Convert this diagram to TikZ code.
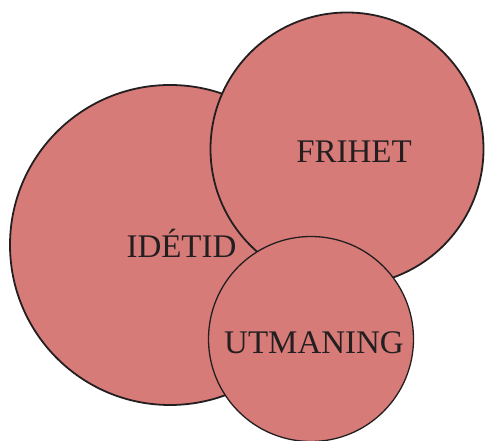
\documentclass[tikz,border=0pt]{standalone}
\usepackage{fontspec}
\setmainfont{Liberation Serif}
\usetikzlibrary{positioning}

\definecolor{rose}{RGB}{215,123,120}
\definecolor{ink}{RGB}{35,31,32}

\tikzset{
  bubble/.style={circle,draw=ink,fill=rose,inner sep=0pt,line width=1.8pt},
  word/.style={font=\fontsize{33}{36}\selectfont,text=ink,inner sep=0pt,anchor=base}
}

\begin{document}
\begin{tikzpicture}[x=1pt,y=1pt]
  \useasboundingbox (0,0) rectangle (485,441);

  \node [bubble,minimum size=320pt] (idetid) at (170,196) {};
  \node [bubble,minimum size=273pt] (frihet) at (347,292) {};
  \node [bubble,minimum size=205pt,line width=1.3pt] (utmaning) at (311,102) {};

  \node [word] (idetid_txt)   at (181.5,183) {IDÉTID};
  \node [word] (frihet_txt)   at (354,278)   {FRIHET};
  \node [word] (utmaning_txt) at (314,87)    {UTMANING};

\end{tikzpicture}
\end{document}
